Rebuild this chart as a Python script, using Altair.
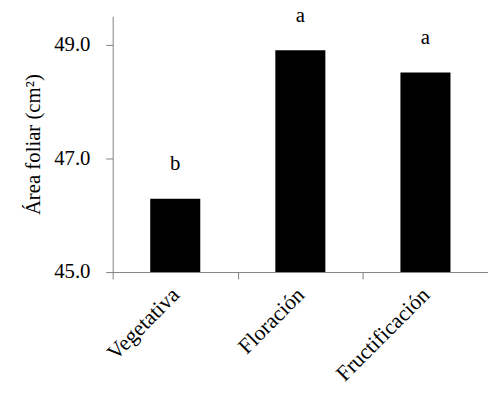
import altair as alt
import pandas as pd

stages = ["Vegetativa", "Floración", "Fructificación"]
area = [46.29, 48.90, 48.51]
letters = ["b", "a", "a"]
base = [45.0, 45.0, 45.0]

df = pd.DataFrame({"stage": stages, "area": area, "letter": letters, "base": base})

FONT = "Liberation Serif"
AX = "#808080"

x = alt.X("stage:N", sort=stages,
          scale=alt.Scale(paddingInner=0, paddingOuter=0),
          axis=alt.Axis(title=None, labelAngle=-45, labelAlign="right",
                        labelBaseline="middle", labelFontSize=22, labelFont=FONT,
                        labelColor="black", ticks=True, tickBand="extent", tickSize=7,
                        tickWidth=1, tickColor=AX, domainColor=AX, labelPadding=12))
y = alt.Y("area:Q", scale=alt.Scale(domain=[45, 49.5], nice=False, zero=False),
          axis=alt.Axis(title="Área foliar (cm²)", values=[45, 47, 49], format=".1f",
                        labelFontSize=21, labelFont=FONT, labelColor="black",
                        titleFontSize=21, titleFont=FONT, titleFontWeight="normal",
                        titleColor="black", titlePadding=10, ticks=True, tickSize=7,
                        tickWidth=1, tickColor=AX, domainColor=AX, labelPadding=16,
                        grid=False))

bars = alt.Chart(df).mark_bar(color="black", width=alt.RelativeBandSize(0.4)).encode(
    x=x, y=y, y2="base:Q")
text = alt.Chart(df).mark_text(dy=-29, baseline="alphabetic", fontSize=21, font=FONT,
                               color="black").encode(x=x, y=y, text="letter:N")

chart = alt.layer(bars, text).properties(
    width=380, height=259,
    autosize=alt.AutoSizeParams(type="none"),
    padding={"left": 106, "top": 6, "right": 0, "bottom": 114},
).configure(font=FONT).configure_view(stroke=None)

chart.save("out.html", embed_options={"renderer": "svg", "actions": False})
